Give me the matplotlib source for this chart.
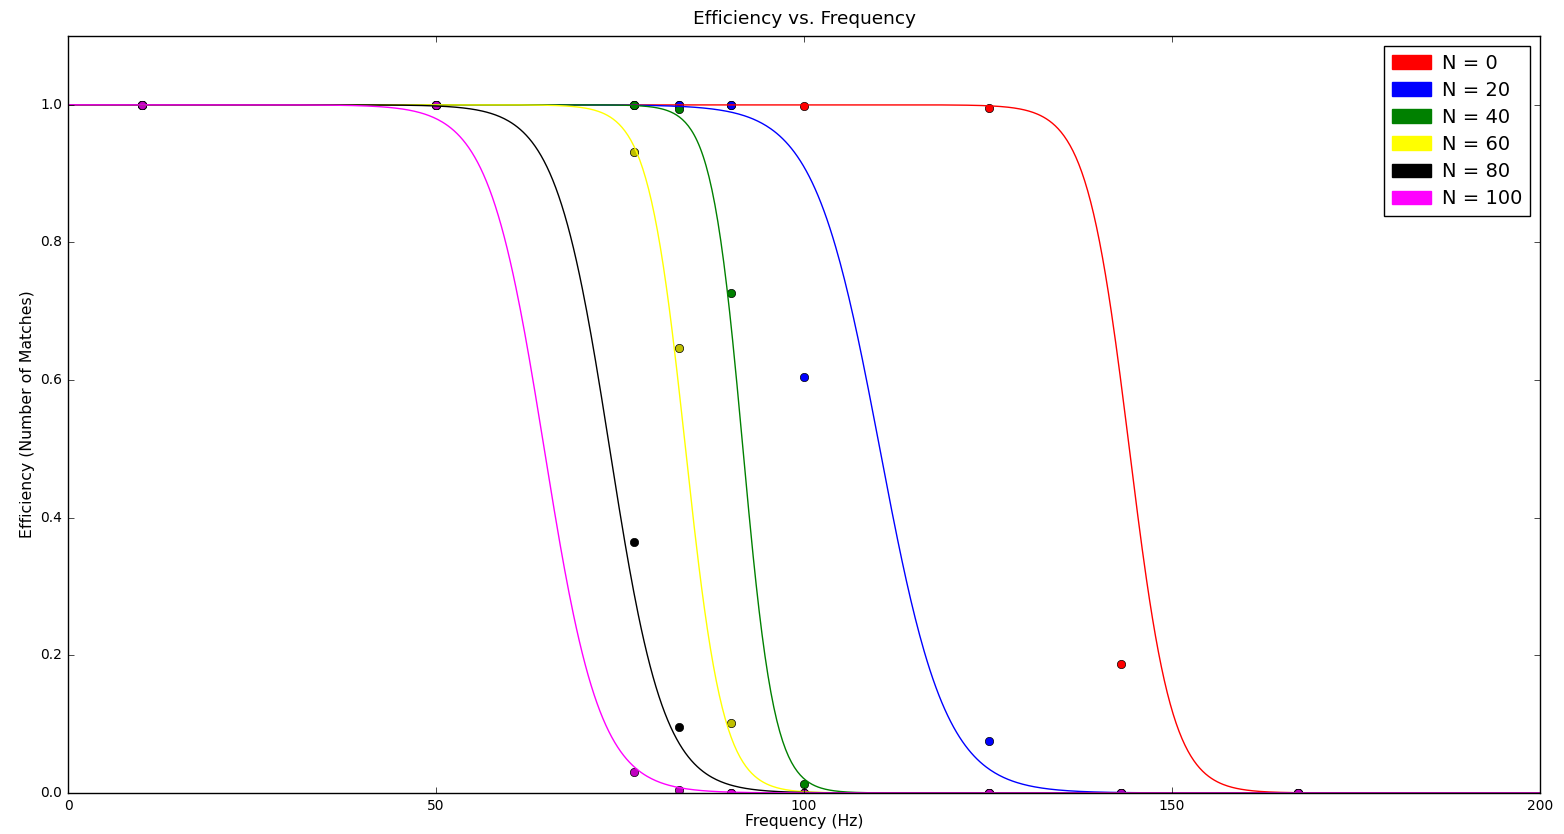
import numpy as np
import matplotlib
matplotlib.use("Agg")
import matplotlib.pyplot as plt
import matplotlib.patches as mpatches

# measured frequencies (Hz)
freqs = [10.0, 50.0, 76.9, 83.0, 90.1, 100.0, 125.1, 143.1, 167.1]

labels = ["N = 0", "N = 20", "N = 40", "N = 60", "N = 80", "N = 100"]
line_colors = ["red", "blue", "green", "yellow", "black", "magenta"]
point_colors = ["r", "b", "g", "y", "k", "m"]

# measured efficiency per N
eff_n0 = [1.0, 1.0, 1.0, 1.0, 1.0, 0.999, 0.996, 0.187, 0.0]
eff_n20 = [1.0, 1.0, 1.0, 1.0, 1.0, 0.605, 0.075, 0.0, 0.0]
eff_n40 = [1.0, 1.0, 1.0, 0.994, 0.727, 0.013, 0.0, 0.0, 0.0]
eff_n60 = [1.0, 1.0, 0.932, 0.647, 0.101, 0.0, 0.0, 0.0, 0.0]
eff_n80 = [1.0, 1.0, 0.364, 0.096, 0.0, 0.0, 0.0, 0.0, 0.0]
eff_n100 = [1.0, 1.0, 0.030, 0.004, 0.0, 0.0, 0.0, 0.0, 0.0]
effs = [eff_n0, eff_n20, eff_n40, eff_n60, eff_n80, eff_n100]

# fitted sigmoid parameters (50% point, width) per N
fit_center = [144.2, 110.3, 91.7, 83.9, 73.6, 64.7]
fit_width = [2.91, 4.46, 2.15, 2.55, 3.69, 3.78]

plt.style.use("classic")
fig = plt.figure(figsize=(15.64, 8.34), dpi=100, facecolor="white")
ax = fig.add_axes([0.0435, 0.0492, 0.9412, 0.9076])

# points first, fitted curves on top
for eff, c in zip(effs, point_colors):
    ax.plot(freqs, eff, "o", color=c, markersize=6, markeredgewidth=0.5)

f = np.linspace(0, 200, 1000)
for x0, w, c in zip(fit_center, fit_width, line_colors):
    ax.plot(f, 1.0 / (1.0 + np.exp((f - x0) / w)), "-", color=c, linewidth=1.0)

ax.set_xlim(0, 200)
ax.set_ylim(0, 1.1)
ax.set_xticks([0, 50, 100, 150, 200])
ax.set_yticks([0.0, 0.2, 0.4, 0.6, 0.8, 1.0])
ax.tick_params(labelsize=10)
ax.set_xlabel("Frequency (Hz)", fontsize=11.3, labelpad=1)
ax.set_ylabel("Efficiency (Number of Matches)", fontsize=11.3, labelpad=4)
ax.set_title("Efficiency vs. Frequency", fontsize=13.3, pad=9)

handles = [mpatches.Patch(color=c, label=l) for c, l in zip(line_colors, labels)]
ax.legend(handles=handles, loc="upper right", fontsize=14, fancybox=False,
          labelspacing=0.42, handletextpad=0.6)

fig.savefig("out.png", dpi=100, facecolor="white")
